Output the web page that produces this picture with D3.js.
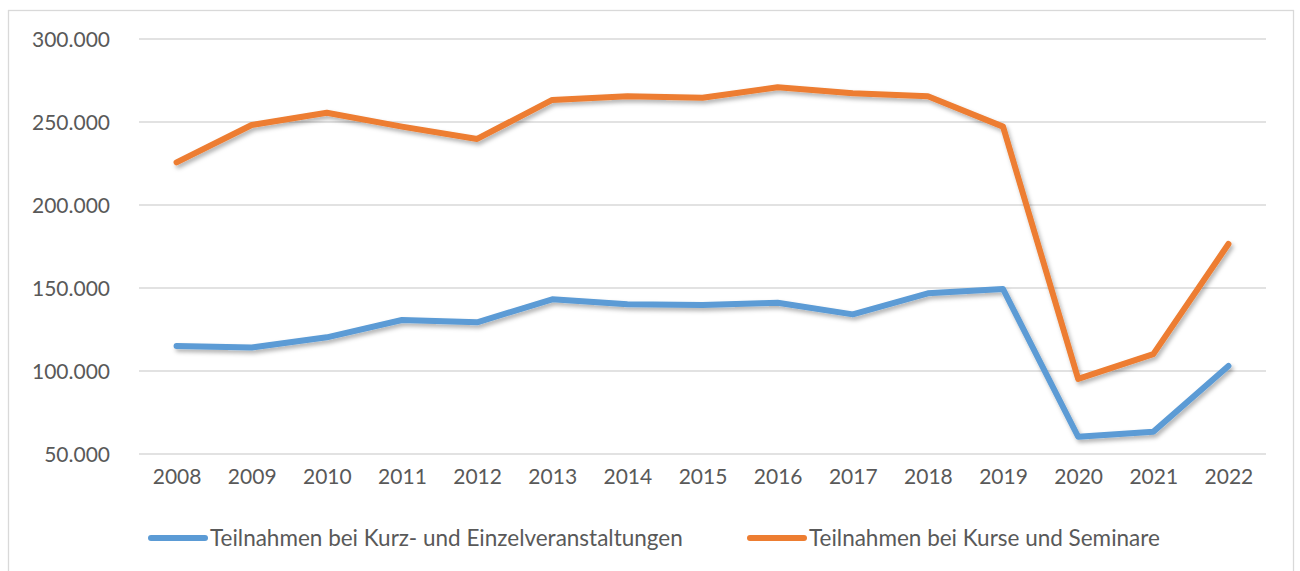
<!DOCTYPE html>
<head>
    <meta charset="utf-8">
    <script src="https://d3js.org/d3.v7.min.js"></script>
    <style>
        body { margin: 0; background: #fff; }
        text { font-family: Lato, "Open Sans", sans-serif; fill: #595959; }
        .grid line { stroke: #d9d9d9; stroke-width: 1.3px; }
    </style>
</head>
<body>
    <svg id="svg" width="1300" height="571"></svg>
    <script>
        // data
        var years = ["2008", "2009", "2010", "2011", "2012", "2013", "2014", "2015",
                     "2016", "2017", "2018", "2019", "2020", "2021", "2022"];
        var kurzEinzel = [115100, 114100, 120300, 130700, 129300, 143200, 140200, 139800,
                          141100, 134100, 146800, 149400, 60400, 63400, 103000];
        var kurseSeminare = [225700, 248200, 255600, 247200, 239800, 263300, 265500, 264600,
                             270900, 267300, 265500, 247200, 95200, 110200, 176500];
        var yTicks = [50000, 100000, 150000, 200000, 250000, 300000];
        var seriesNames = ["Teilnahmen bei Kurz- und Einzelveranstaltungen", "Teilnahmen bei Kurse und Seminare"];
        var seriesColors = ["#5b9bd5", "#ed7d31"];

        var svg = d3.select("#svg");
        var de = d3.formatLocale({ decimal: ",", thousands: ".", grouping: [3], currency: ["", " €"] });
        var fmt = de.format(",");

        var x = d3.scalePoint().domain(years).range([139, 1266]).padding(0.5);
        var y = d3.scaleLinear().domain([50000, 300000]).range([454, 39]);

        // outer frame
        svg.append("rect")
            .attr("x", 8.5).attr("y", 10.5)
            .attr("width", 1285).attr("height", 580)
            .attr("fill", "none").attr("stroke", "#d9d9d9").attr("stroke-width", 1.3);

        var defs = svg.append("defs");
        var f = defs.append("filter").attr("id", "shadow")
            .attr("x", "-5%").attr("y", "-20%").attr("width", "110%").attr("height", "140%");
        f.append("feDropShadow").attr("dx", 2).attr("dy", 3).attr("stdDeviation", 2)
            .attr("flood-color", "#000").attr("flood-opacity", 0.3);

        // gridlines
        svg.append("g").attr("class", "grid")
            .selectAll("line").data(yTicks).enter().append("line")
            .attr("x1", 139).attr("x2", 1266)
            .attr("y1", function (d) { return y(d); })
            .attr("y2", function (d) { return y(d); });

        // y axis labels
        var yAxis = d3.axisLeft(y).tickValues(yTicks).tickFormat(fmt).tickSize(0).tickPadding(29);
        var gy = svg.append("g").attr("transform", "translate(139,0)").call(yAxis);
        gy.select(".domain").remove();
        gy.selectAll("text").style("font-size", "21px").attr("dy", "0.35em");

        // x axis labels
        var xAxis = d3.axisBottom(x).tickSize(0).tickPadding(20);
        var gx = svg.append("g").attr("transform", "translate(0,464)").call(xAxis);
        gx.select(".domain").remove();
        gx.selectAll("text").style("font-size", "21px").attr("dy", "0");

        var line = d3.line()
            .x(function (d, i) { return x(years[i]); })
            .y(function (d) { return y(d); });

        [kurzEinzel, kurseSeminare].forEach(function (vals, i) {
            svg.append("path")
                .datum(vals)
                .attr("d", line)
                .attr("fill", "none")
                .attr("stroke", seriesColors[i])
                .attr("stroke-width", 6)
                .attr("stroke-linejoin", "round")
                .attr("stroke-linecap", "round")
                .attr("filter", "url(#shadow)");
        });

        // legend
        var legendX = [151, 750];
        var legend = svg.append("g").selectAll("g").data(seriesNames).enter().append("g")
            .attr("transform", function (d, i) { return "translate(" + legendX[i] + ",538)"; });
        legend.append("line")
            .attr("x1", 0).attr("x2", 54).attr("y1", 0).attr("y2", 0)
            .attr("stroke", function (d, i) { return seriesColors[i]; })
            .attr("stroke-width", 6).attr("stroke-linecap", "round");
        legend.append("text")
            .attr("x", 59).attr("dy", "0.35em")
            .style("font-size", "22.5px")
            .text(function (d) { return d; });
    </script>
</body>
